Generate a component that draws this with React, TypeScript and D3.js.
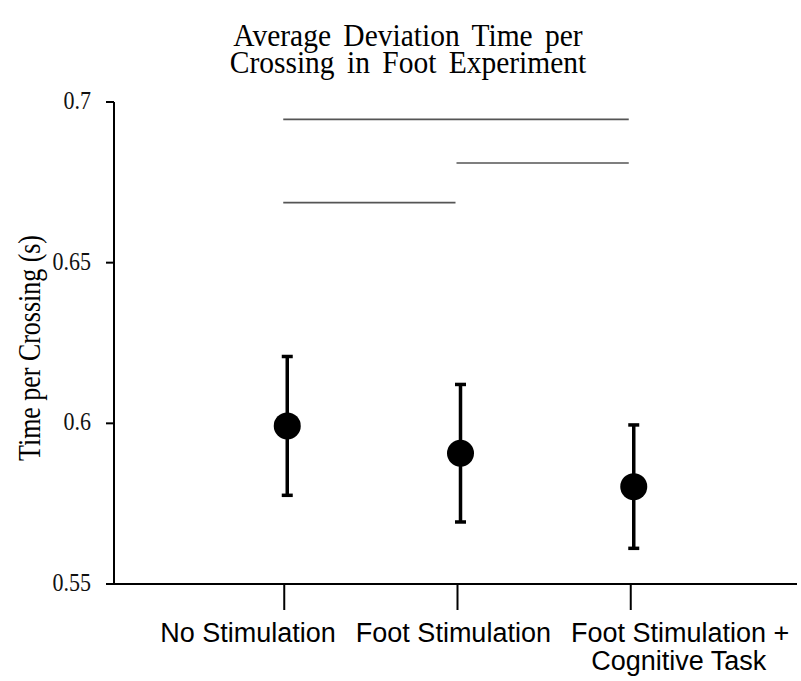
import React from "react";
import * as d3 from "d3";

// conditions along the x axis (second label line for the last one)
const conditions = ["No Stimulation", "Foot Stimulation", "Foot Stimulation +"];
const conditionSub = ["", "", "Cognitive Task"];
// mean deviation time per crossing (s) and error (s)
const means = [0.5992, 0.5907, 0.5803];
const errors = [0.0216, 0.0214, 0.0192];
// significance lines: from / to condition index (1-based) and height
const sigFrom = [1, 2, 1];
const sigTo = [3, 3, 2];
const sigLevel = [0.6946, 0.681, 0.6687];
const yTicks = [0.55, 0.6, 0.65, 0.7];
const titleLines = ["Average Deviation Time per", "Crossing in Foot Experiment"];

const W = 801;
const H = 681;

const App = () => {
  const x = d3.scaleLinear().domain([0, 4]).range([114, 807]);
  const y = d3.scaleLinear().domain([0.55, 0.7]).range([584, 102]);
  const serif = "'Liberation Serif', 'Times New Roman', serif";
  const sans = "'Liberation Sans', Arial, sans-serif";
  const base = y(0.55);
  const stretch = 1.15; // source fonts look a bit taller than they are wide

  return (
    <svg
      width={W}
      height={H}
      viewBox={`0 0 ${W} ${H}`}
      style={{ position: "absolute", left: 0, top: 0, background: "#fff" }}
    >
      {/* title, both lines in one text */}
      <text
        transform={`translate(408,46) scale(1,1.08)`}
        textAnchor="middle"
        fontFamily={serif}
        fontSize={29.5}
        wordSpacing={5}
      >
        {titleLines.map((t, i) => (
          <tspan key={t} x={0} y={(i * 26.5) / 1.08}>
            {t}
          </tspan>
        ))}
      </text>

      {/* y axis */}
      <line x1={x(0)} x2={x(0)} y1={y(0.7)} y2={base} stroke="#000" strokeWidth={2} />
      {yTicks.map((t) => (
        <g key={t}>
          <line x1={x(0) - 8} x2={x(0)} y1={y(t)} y2={y(t)} stroke="#000" strokeWidth={2} />
          <text
            transform={`translate(${x(0) - 23},${y(t) + 7}) scale(1,${stretch})`}
            textAnchor="end"
            fontFamily={serif}
            fontSize={22}
            fill="#111"
          >
            {d3.format("")(t)}
          </text>
        </g>
      ))}
      <text
        transform={`translate(40,${348}) rotate(-90) scale(1,${stretch})`}
        textAnchor="middle"
        fontFamily={serif}
        fontSize={27}
        textLength={226}
        lengthAdjust="spacingAndGlyphs"
      >
        Time per Crossing (s)
      </text>

      {/* x axis */}
      <line x1={x(0)} x2={W - 4} y1={base} y2={base} stroke="#000" strokeWidth={2} />
      {conditions.map((c, i) => (
        <line
          key={c}
          x1={x(i + 1) - 3}
          x2={x(i + 1) - 3}
          y1={base}
          y2={base + 26}
          stroke="#000"
          strokeWidth={2}
        />
      ))}
      {/* category labels sit in one row, as in the source figure */}
      <text x={x(1) - 127} y={base + 58} fontFamily={sans} fontSize={27}>
        {conditions.map((c, i) => (
          <tspan key={c} dx={i === 0 ? 0 : 20}>
            {c}
          </tspan>
        ))}
      </text>
      {conditionSub.map((s, i) =>
        s ? (
          <text
            key={s}
            x={x(i + 1) + 45}
            y={base + 86}
            textAnchor="middle"
            fontFamily={sans}
            fontSize={27}
          >
            {s}
          </text>
        ) : null
      )}

      {/* significance lines */}
      {sigLevel.map((s, i) => (
        <line
          key={i}
          x1={x(sigFrom[i]) - 4}
          x2={x(sigTo[i]) - 5}
          y1={y(s)}
          y2={y(s)}
          stroke="#555"
          strokeWidth={1.6}
        />
      ))}

      {/* error bars and means */}
      {means.map((m, i) => (
        <g key={i}>
          <line
            x1={x(i + 1)}
            x2={x(i + 1)}
            y1={y(m + errors[i])}
            y2={y(m - errors[i])}
            stroke="#000"
            strokeWidth={3.5}
          />
          {[m + errors[i], m - errors[i]].map((e, k) => (
            <line
              key={k}
              x1={x(i + 1) - 5.5}
              x2={x(i + 1) + 5.5}
              y1={y(e)}
              y2={y(e)}
              stroke="#000"
              strokeWidth={3.5}
            />
          ))}
          <circle cx={x(i + 1)} cy={y(m)} r={13.5} fill="#000" />
        </g>
      ))}
    </svg>
  );
};

export default App;
